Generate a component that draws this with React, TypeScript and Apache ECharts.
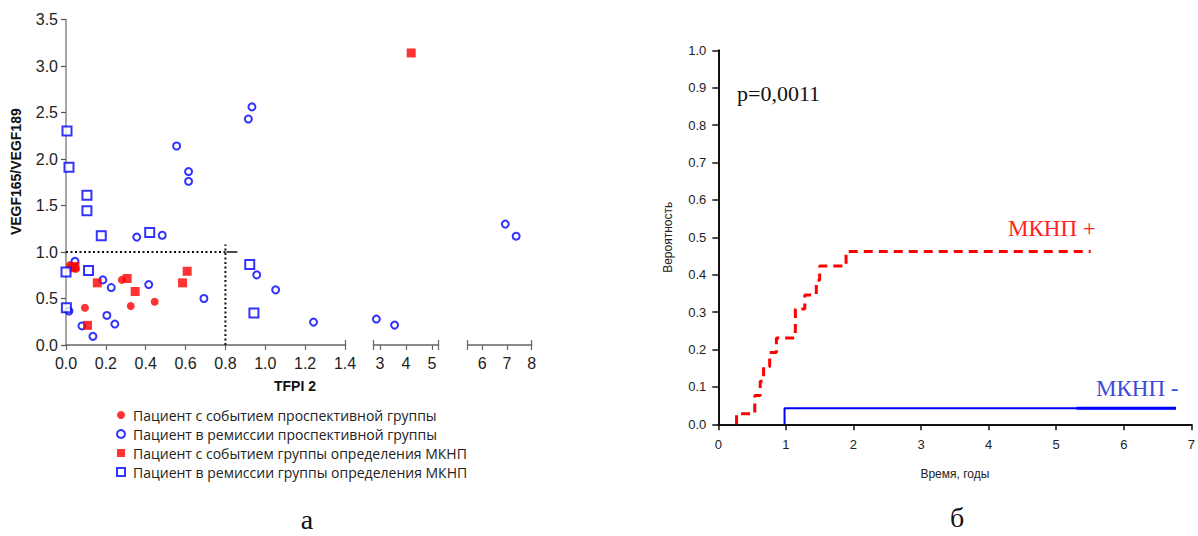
import React, { useEffect, useRef } from "react";
import * as echarts from "echarts";

// ---------- Panel "а": scatter TFPI 2 vs VEGF165/VEGF189 ----------
const eventProspective: [number, number][] = [
  [0.02, 0.86], [0.05, 0.82], [0.095, 0.4], [0.28, 0.7], [0.325, 0.42], [0.445, 0.465],
];
const remissionProspective: [number, number][] = [
  [0.045, 0.9], [0.015, 0.365], [0.08, 0.205], [0.135, 0.093], [0.185, 0.7], [0.205, 0.318],
  [0.227, 0.618], [0.245, 0.225], [0.355, 1.16], [0.415, 0.65], [0.483, 1.18], [0.555, 2.14],
  [0.615, 1.865], [0.615, 1.76], [0.692, 0.5], [0.915, 2.43], [0.933, 2.56], [0.957, 0.754],
  [1.052, 0.593], [1.242, 0.246], [2.86, 0.279], [3.56, 0.214], [6.93, 1.3], [7.37, 1.17],
];
const eventMKNP: [number, number][] = [
  [0.03, 0.83], [0.045, 0.845], [0.108, 0.211], [0.157, 0.668], [0.307, 0.715], [0.347, 0.575],
  [0.585, 0.668], [0.608, 0.793], [4.2, 3.14],
];
const remissionMKNP: [number, number][] = [
  [0.005, 2.3], [0.015, 1.91], [0.105, 1.61], [0.105, 1.444], [0.177, 1.175], [0.42, 1.21],
  [0.0, 0.786], [0.113, 0.8], [0.002, 0.4], [0.922, 0.865], [0.943, 0.343],
];
const legendNames = [
  "Пациент с событием проспективной группы",
  "Пациент в ремиссии проспективной группы",
  "Пациент с событием группы определения МКНП",
  "Пациент в ремиссии группы определения МКНП",
];
// broken x axis: three segments
const segMin = [0, 2.75, 5.4];
const segMax = [1.4, 5.25, 8];
const segTickValues = [
  [0, 0.2, 0.4, 0.6, 0.8, 1.0, 1.2, 1.4],
  [2.75, 3, 4, 5, 5.25],
  [5.4, 6, 7, 8],
];
const segLabelValues = [
  [0, 0.2, 0.4, 0.6, 0.8, 1.0, 1.2, 1.4],
  [3, 4, 5],
  [6, 7, 8],
];
const segCapValues = [[1.4], [2.75, 5.25], [5.4, 8]];
const yTicksLeft = [0, 0.5, 1, 1.5, 2, 2.5, 3, 3.5];
const tfpiCut = 0.8;
const vegfCut = 1.0;
const cutVerticalTop = 1.08;
const cutDashEnd = 0.86;

// ---------- Panel "б": cumulative incidence ----------
const redEventTimes = [0.27, 0.54, 0.62, 0.67, 0.76, 0.86, 1.14, 1.28, 1.45, 1.5, 1.89];
const redCumProb = [0.028, 0.077, 0.115, 0.154, 0.192, 0.231, 0.308, 0.346, 0.385, 0.423, 0.462];
const redFollowUpEnd = 5.51;
const blueEventTimes = [0.98];
const blueCumProb = [0.043];
const blueFollowUpEnd = 6.77;
const blueCensorStart = 5.3;

function stepPoints(times: number[], probs: number[], end: number): [number, number][] {
  const pts: [number, number][] = [[times[0], 0]];
  let prev = 0;
  times.forEach((t, i) => {
    pts.push([t, prev]);
    pts.push([t, probs[i]]);
    prev = probs[i];
  });
  pts.push([end, prev]);
  return pts;
}

const SANS = "'Liberation Sans', Arial, sans-serif";
const SERIF = "'Liberation Serif', 'Times New Roman', serif";

export default function App() {
  const ref = useRef<HTMLDivElement>(null);
  useEffect(() => {
    if (!ref.current) return;
    const chart = echarts.init(ref.current, undefined, { renderer: "svg" });

    const gridTop = 19.5;
    const gridH = 325.5;
    const grids = [
      { left: 66, top: gridTop, width: 279, height: gridH },
      { left: 373.5, top: gridTop, width: 65, height: gridH },
      { left: 467.5, top: gridTop, width: 64.2, height: gridH },
      { left: 718.3, top: 50.3, width: 476, height: 374 },
    ];

    const axisGray = "#666";
    const xAxes: any[] = [];
    const yAxes: any[] = [];
    for (let s = 0; s < 3; s++) {
      xAxes.push({
        type: "value",
        gridIndex: s,
        min: segMin[s],
        max: segMax[s],
        splitLine: { show: false },
        axisLine: { show: true, onZero: false, lineStyle: { color: axisGray, width: 1.5 } },
        axisTick: { show: true, length: 5, lineStyle: { color: axisGray, width: 1.2 }, customValues: segTickValues[s] },
        axisLabel: {
          show: true,
          margin: 10,
          fontSize: 16,
          fontFamily: SANS,
          color: "#222",
          customValues: segLabelValues[s],
          formatter: (v: number) => (s === 0 ? v.toFixed(1) : String(v)),
        },
      });
    }
    for (let s = 0; s < 3; s++) {
      xAxes.push({
        type: "value",
        gridIndex: s,
        min: segMin[s],
        max: segMax[s],
        position: "bottom",
        splitLine: { show: false },
        axisLine: { show: false },
        axisTick: { show: true, inside: true, length: 5, lineStyle: { color: axisGray, width: 1.2 }, customValues: segCapValues[s] },
        axisLabel: { show: false },
      });
    }
    xAxes.push({
      type: "value",
      gridIndex: 3,
      min: 0,
      max: 7,
      interval: 1,
      name: "Время, годы",
      nameLocation: "middle",
      nameGap: 44,
      nameTextStyle: { fontSize: 12, fontFamily: SANS, color: "#222" },
      splitLine: { show: false },
      axisLine: { onZero: false, lineStyle: { color: "#111", width: 2 } },
      axisTick: { length: 6, lineStyle: { color: "#111", width: 1.5 } },
      axisLabel: { margin: 14, fontSize: 13, fontFamily: SANS, color: "#222" },
    });

    for (let s = 0; s < 3; s++) {
      yAxes.push({
        type: "value",
        gridIndex: s,
        min: 0,
        max: 3.5,
        interval: 0.5,
        show: s === 0,
        splitLine: { show: false },
        axisLine: { show: s === 0, onZero: false, lineStyle: { color: "#888", width: 1.5 } },
        axisTick: { show: s === 0, length: 5, lineStyle: { color: "#555", width: 1.2 } },
        axisLabel: {
          show: s === 0,
          margin: 8,
          fontSize: 16,
          fontFamily: SANS,
          color: "#222",
          customValues: yTicksLeft,
          formatter: (v: number) => v.toFixed(1),
        },
      });
    }
    yAxes.push({
      type: "value",
      gridIndex: 3,
      min: 0,
      max: 1,
      interval: 0.1,
      name: "Вероятность",
      nameLocation: "middle",
      nameGap: 44,
      nameTextStyle: { fontSize: 12, fontFamily: SANS, color: "#222" },
      splitLine: { show: false },
      axisLine: { onZero: false, lineStyle: { color: "#111", width: 2 } },
      axisTick: { length: 6, lineStyle: { color: "#111", width: 1.5 } },
      axisLabel: { margin: 12, fontSize: 13, fontFamily: SANS, color: "#222", formatter: (v: number) => v.toFixed(1) },
    });

    const groups = [
      { name: legendNames[0], data: eventProspective, symbol: "circle", size: 8, style: { color: "#ff0000" } },
      { name: legendNames[1], data: remissionProspective, symbol: "emptyCircle", size: 7, style: { color: "#0000ff", borderColor: "#0000ff", borderWidth: 1.8 } },
      { name: legendNames[2], data: eventMKNP, symbol: "rect", size: 9, style: { color: "#ff0000" } },
      { name: legendNames[3], data: remissionMKNP, symbol: "emptyRect", size: 9, style: { color: "#0000ff", borderColor: "#0000ff", borderWidth: 1.8 } },
    ];

    const series: any[] = [];
    // cut-off lines (panel а)
    series.push({
      type: "line",
      xAxisIndex: 0,
      yAxisIndex: 0,
      data: [[0, vegfCut], [tfpiCut, vegfCut]],
      symbol: "none",
      silent: true,
      lineStyle: { color: "#111", width: 2, type: [2, 2.5] },
    });
    series.push({
      type: "line",
      xAxisIndex: 0,
      yAxisIndex: 0,
      data: [[tfpiCut, 0], [tfpiCut, cutVerticalTop]],
      symbol: "none",
      silent: true,
      lineStyle: { color: "#111", width: 2, type: [2, 2.5] },
    });
    series.push({
      type: "line",
      xAxisIndex: 0,
      yAxisIndex: 0,
      data: [[tfpiCut + 0.005, vegfCut], [cutDashEnd, vegfCut]],
      symbol: "none",
      silent: true,
      lineStyle: { color: "#111", width: 1.5 },
    });

    groups.forEach((g) => {
      for (let s = 0; s < 3; s++) {
        const pts = g.data.filter((p) => p[0] >= segMin[s] && p[0] <= segMax[s]);
        series.push({
          type: "scatter",
          name: g.name,
          xAxisIndex: s,
          yAxisIndex: s,
          data: pts,
          symbol: g.symbol,
          symbolSize: g.size,
          clip: false,
          itemStyle: g.style,
        });
      }
    });

    // panel б
    series.push({
      type: "line",
      name: "МКНП +",
      xAxisIndex: 6,
      yAxisIndex: 3,
      data: stepPoints(redEventTimes, redCumProb, redFollowUpEnd),
      symbol: "none",
      lineStyle: { color: "#ff0000", width: 3, type: [9, 6] },
    });
    series.push({
      type: "line",
      name: "МКНП -",
      xAxisIndex: 6,
      yAxisIndex: 3,
      data: stepPoints(blueEventTimes, blueCumProb, blueFollowUpEnd),
      symbol: "none",
      lineStyle: { color: "#0000ff", width: 2 },
    });
    series.push({
      type: "line",
      name: "МКНП - (цензурированные)",
      xAxisIndex: 6,
      yAxisIndex: 3,
      data: [[blueCensorStart, blueCumProb[0]], [blueFollowUpEnd, blueCumProb[0]]],
      symbol: "none",
      lineStyle: { color: "#0000ff", width: 3 },
    });

    chart.setOption({
      animation: false,
      backgroundColor: "#fff",
      grid: grids,
      xAxis: xAxes,
      yAxis: yAxes,
      legend: {
        data: legendNames,
        orient: "vertical",
        left: 116,
        top: 408,
        padding: 0,
        itemWidth: 8,
        itemHeight: 8,
        itemGap: 5,
        selectedMode: false,
        textStyle: { fontFamily: "'Open Sans', sans-serif", fontSize: 14, color: "#222", lineHeight: 13, padding: [0, 0, 0, 3] },
      },
      graphic: [
        { type: "text", x: 16, y: 171.7, rotation: Math.PI / 2, style: { text: "VEGF165/VEGF189", font: `bold 14px ${SANS}`, fill: "#111", align: "center", verticalAlign: "middle" } },
        { type: "text", x: 295, y: 386, style: { text: "TFPI 2", font: `bold 14px ${SANS}`, fill: "#111", align: "center", verticalAlign: "middle" } },
        { type: "text", x: 737, y: 93, style: { text: "p=0,0011", font: `22px ${SERIF}`, fill: "#111", align: "left", verticalAlign: "middle" } },
        { type: "text", x: 1008, y: 228, style: { text: "МКНП +", font: `23px ${SERIF}`, fill: "#ff2222", align: "left", verticalAlign: "middle" } },
        { type: "text", x: 1096, y: 388, style: { text: "МКНП -", font: `23px ${SERIF}`, fill: "#3b4bd8", align: "left", verticalAlign: "middle" } },
        { type: "text", x: 307, y: 519, style: { text: "а", font: `28px ${SERIF}`, fill: "#111", align: "center", verticalAlign: "middle" } },
        { type: "text", x: 957, y: 517, style: { text: "б", font: `28px ${SERIF}`, fill: "#111", align: "center", verticalAlign: "middle" } },
      ],
      series,
    });
    return () => chart.dispose();
  }, []);
  return <div ref={ref} style={{ position: "fixed", left: 0, top: 0, width: 1198, height: 536, background: "#fff" }} />;
}
